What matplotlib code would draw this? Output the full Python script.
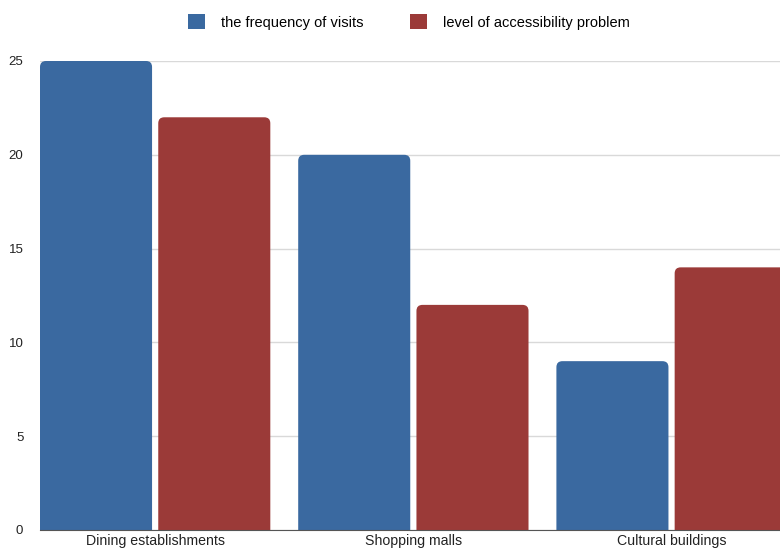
import numpy as np
import matplotlib.pyplot as plt
from matplotlib.patches import FancyBboxPatch, Patch

plt.rcParams['font.family'] = ['Liberation Sans', 'DejaVu Sans']

categories = ["Dining establishments", "Shopping malls", "Cultural buildings"]
visits = [25, 20, 9]
access = [22, 12, 14]
series_names = ["the frequency of visits", "level of accessibility problem"]
colors = ["#3a69a0", "#9b3a38"]

fig = plt.figure(figsize=(7.8, 5.51), dpi=100)
ax = fig.add_axes([40 / 780, 1 - 530 / 551, 1 - 40 / 780, (530 - 61) / 551])

x = np.arange(len(categories))
width = 0.434
offset = 0.229
xlim = (-0.446, 2.42)
ylim = (0, 25)
ax.set_xlim(*xlim)
ax.set_ylim(*ylim)

# rounded top corners: size in x units, stretched for the y scale
px_x = (xlim[1] - xlim[0]) / 740
px_y = (ylim[1] - ylim[0]) / 469
r = 6 * px_x
aspect = px_y / px_x

for vals, dx, c in [(visits, -offset, colors[0]), (access, offset, colors[1])]:
    for xi, v in zip(x, vals):
        left = xi + dx - width / 2
        bottom = -1.0  # start below the axis so only the top corners show rounded
        p = FancyBboxPatch((left, bottom), width, v - bottom,
                           boxstyle=f"round,pad=0,rounding_size={r}",
                           mutation_aspect=aspect, facecolor=c,
                           edgecolor="none", zorder=3)
        ax.add_patch(p)

ax.set_yticks(range(0, 26, 5))
ax.grid(axis="y", color="#d9d9d9", linewidth=1, zorder=0)
ax.set_xticks(x)
ax.set_xticklabels(categories, fontsize=10.2, color="#222222")
ax.tick_params(axis="y", labelsize=9.5, labelcolor="#222222", length=0, pad=12)
ax.tick_params(axis="x", length=0, pad=3)
for s in ["top", "right", "left"]:
    ax.spines[s].set_visible(False)
ax.spines["bottom"].set_color("#555555")
ax.spines["bottom"].set_zorder(4)

handles = [Patch(facecolor=c, edgecolor="none") for c in colors]
fig.legend(handles, series_names, loc="center", bbox_to_anchor=(409 / 780, 1 - 22 / 551),
           ncol=2, frameon=False, fontsize=10.5, handlelength=1.17, handleheight=1.17,
           handletextpad=1.1, columnspacing=3.2)

fig.savefig("out.png", dpi=100)
